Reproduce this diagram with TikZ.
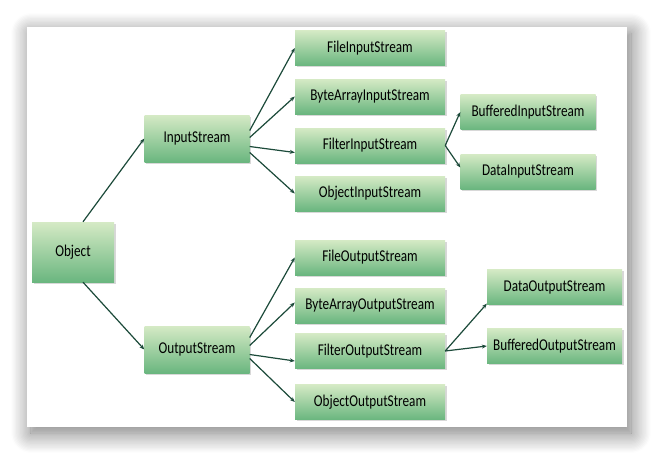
\documentclass[tikz,border=0pt]{standalone}
\usepackage{fontspec}
\setmainfont{Carlito}
\usetikzlibrary{arrows.meta,positioning,shadows,shadows.blur}
\definecolor{greenTop}{HTML}{D5EAC5}
\definecolor{greenBot}{HTML}{6AB67F}
\definecolor{linkGreen}{HTML}{1C4A3A}
\newcommand{\cls}[1]{\scalebox{0.8}[1]{#1}}

\begin{document}
\begin{tikzpicture}[x=1pt,y=-1pt,
  stream/.style={rectangle,top color=greenTop,bottom color=greenBot,inner sep=0pt,
    minimum width=150pt,minimum height=35pt,font=\fontsize{16.5}{18}\selectfont,
    drop shadow={shadow xshift=1.5pt,shadow yshift=-1.5pt,opacity=.3}},
  base/.style={stream,minimum width=82pt,minimum height=60pt},
  mid/.style={stream,minimum width=105pt,minimum height=47pt},
  sub/.style={stream,minimum width=135pt,minimum height=35pt},
  link/.style={draw=linkGreen,line width=1.2pt,-{Stealth[length=5pt,width=4pt]}}]
% card with soft shadow
\useasboundingbox (0,0) rectangle (664,464);
\fill[white,blur shadow={shadow xshift=4pt,shadow yshift=-6pt,shadow blur radius=20pt,
    shadow blur steps=16,shadow opacity=55}]
  (27,27) rectangle (627,427);
% classes
\node[base] (obj) at (73,252) {\cls{Object}};
\node[mid] (in) at (197,138.5) {\cls{InputStream}};
\node[mid] (out) at (197,349.5) {\cls{OutputStream}};
\node[stream] (fileIn) at (370,48) {\cls{FileInputStream}};
\node[stream] (byteIn) at (370,96.5) {\cls{ByteArrayInputStream}};
\node[stream] (filterIn) at (370,145.5) {\cls{FilterInputStream}};
\node[stream] (objIn) at (370,193.5) {\cls{ObjectInputStream}};
\node[sub] (bufIn) at (528,112) {\cls{BufferedInputStream}};
\node[sub] (dataIn) at (528,171.5) {\cls{DataInputStream}};
\node[stream] (fileOut) at (370,257.5) {\cls{FileOutputStream}};
\node[stream] (byteOut) at (370,305.5) {\cls{ByteArrayOutputStream}};
\node[stream] (filterOut) at (370,351) {\cls{FilterOutputStream}};
\node[stream] (objOut) at (370,402) {\cls{ObjectOutputStream}};
\node[sub] (dataOut) at (554.5,287) {\cls{DataOutputStream}};
\node[sub] (bufOut) at (554.5,346) {\cls{BufferedOutputStream}};
% inheritance
\draw[link] ([xshift=10pt]obj.north) -- (in.west);
\draw[link] ([xshift=10pt]obj.south) -- (out.west);
\draw[link] ([yshift=8pt]in.east) -- (fileIn.west);
\draw[link] ([yshift=1pt]in.east) -- (byteIn.west);
\draw[link] ([yshift=-8pt]in.east) -- ([yshift=-7pt]filterIn.west);
\draw[link] ([yshift=-14pt]in.east) -- (objIn.west);
\draw[link] ([yshift=12pt]out.east) -- (fileOut.west);
\draw[link] ([yshift=4pt]out.east) -- ([yshift=3pt]byteOut.west);
\draw[link] ([yshift=-5pt]out.east) -- ([yshift=-10pt]filterOut.west);
\draw[link] ([yshift=-9pt]out.east) -- (objOut.west);
\draw[link] (filterIn.east) -- (bufIn.west);
\draw[link] (filterIn.east) -- ([yshift=4pt]dataIn.west);
\draw[link] (filterOut.east) -- ([yshift=1pt]dataOut.south west);
\draw[link] (filterOut.east) -- (bufOut.west);
\end{tikzpicture}
\end{document}
